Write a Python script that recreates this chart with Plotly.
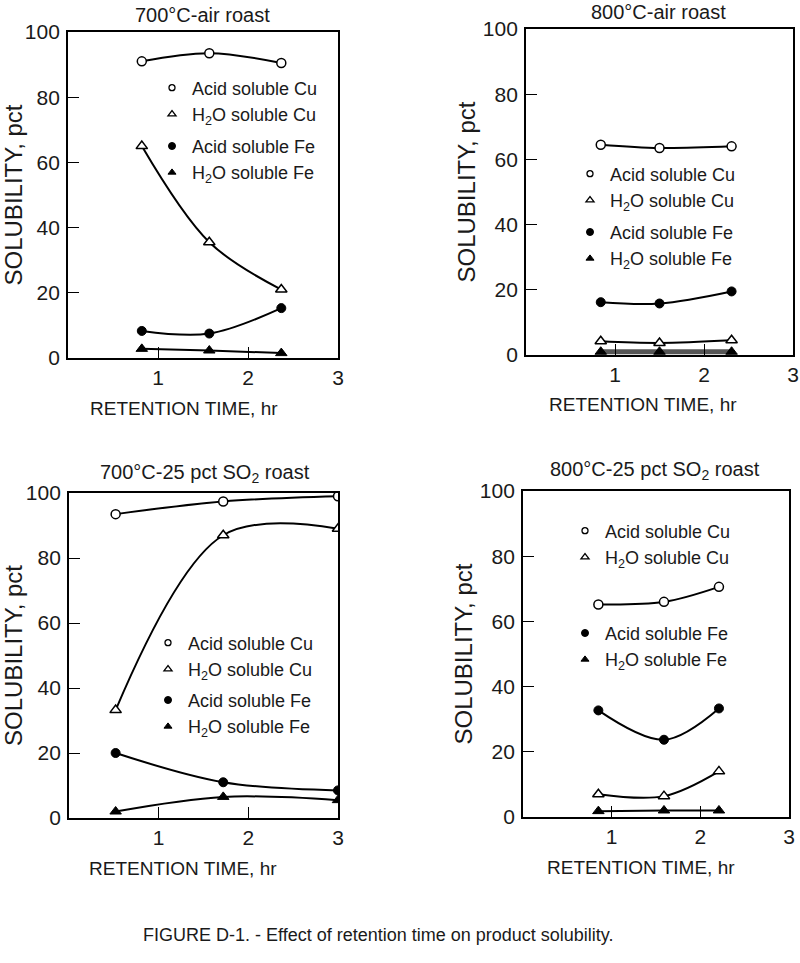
import plotly.graph_objects as go

# ---------------- data ----------------
panel_titles = ["700°C-air roast", "800°C-air roast",
                "700°C-25 pct SO<sub>2</sub> roast", "800°C-25 pct SO<sub>2</sub> roast"]

series_names = ["Acid soluble Cu", "H<sub>2</sub>O soluble Cu",
                "Acid soluble Fe", "H<sub>2</sub>O soluble Fe"]

x_title = "RETENTION TIME, hr"
y_title = "SOLUBILITY, pct"

# 700°C - air roast
time_700_air = [0.82, 1.57, 2.37]
acid_cu_700_air = [91.0, 93.5, 90.5]
h2o_cu_700_air = [65.0, 35.5, 21.0]
acid_fe_700_air = [8.3, 7.5, 15.3]
h2o_fe_700_air = [2.8, 2.3, 1.5]

# 800°C - air roast
time_800_air = [0.84, 1.50, 2.31]
acid_cu_800_air = [64.5, 63.5, 64.0]
h2o_cu_800_air = [4.2, 3.7, 4.5]
acid_fe_800_air = [16.2, 15.8, 19.5]
h2o_fe_800_air = [1.0, 1.0, 1.0]

# 700°C - 25 pct SO2 roast
time_700_so2 = [0.52, 1.72, 3.0]
acid_cu_700_so2 = [93.5, 97.4, 99.0]
h2o_cu_700_so2 = [33.2, 87.0, 89.0]
acid_fe_700_so2 = [20.0, 11.0, 8.5]
h2o_fe_700_so2 = [2.0, 6.5, 5.5]

# 800°C - 25 pct SO2 roast
time_800_so2 = [0.85, 1.59, 2.21]
acid_cu_800_so2 = [65.2, 66.0, 70.6]
h2o_cu_800_so2 = [7.0, 6.4, 14.0]
acid_fe_800_so2 = [32.7, 23.7, 33.3]
h2o_fe_800_so2 = [1.8, 2.0, 2.0]

x_ticks = [1, 2, 3]
y_ticks = [0, 20, 40, 60, 80, 100]

caption = "FIGURE D-1. - Effect of retention time on product solubility."

# ---------------- styling / layout ----------------
FONT = "Liberation Sans, Arial, sans-serif"
TXT = "#1a1a1a"

W, H = 800, 963

panels = [
    dict(x=time_700_air, ys=[acid_cu_700_air, h2o_cu_700_air, acid_fe_700_air, h2o_fe_700_air],
         xd=[68, 338], yd=[32, 358], title_xy=(203, 15), xt_xy=(184, 408),
         leg=(152, 69.5), gap=5.5),
    dict(x=time_800_air, ys=[acid_cu_800_air, h2o_cu_800_air, acid_fe_800_air, h2o_fe_800_air],
         xd=[526, 793], yd=[29, 355], title_xy=(658, 12), xt_xy=(643, 405),
         leg=(570, 155.5), gap=5.5),
    dict(x=time_700_so2, ys=[acid_cu_700_so2, h2o_cu_700_so2, acid_fe_700_so2, h2o_fe_700_so2],
         xd=[69, 338], yd=[493, 818], title_xy=(205, 473), xt_xy=(183, 868),
         leg=(148, 624.5), gap=4.5),
    dict(x=time_800_so2, ys=[acid_cu_800_so2, h2o_cu_800_so2, acid_fe_800_so2, h2o_fe_800_so2],
         xd=[523, 789], yd=[491, 817], title_xy=(655, 470), xt_xy=(641, 867),
         leg=(565, 512.5), gap=49.5),
]


def px_x(v):
    return v / W


def px_y(v):
    return 1 - v / H


marker_styles = [
    dict(symbol="circle", color="white", size=9, line=dict(color="black", width=1.5)),
    dict(symbol="triangle-up", color="white", size=10, line=dict(color="black", width=1.5)),
    dict(symbol="circle", color="black", size=9, line=dict(color="black", width=1)),
    dict(symbol="triangle-up", color="black", size=10, line=dict(color="black", width=1)),
]
legend_marker_styles = [
    dict(symbol="circle", color="white", size=6, line=dict(color="black", width=1.3)),
    dict(symbol="triangle-up", color="white", size=7, line=dict(color="black", width=1.3)),
    dict(symbol="circle", color="black", size=7, line=dict(color="black", width=1)),
    dict(symbol="triangle-up", color="black", size=7, line=dict(color="black", width=1)),
]

fig = go.Figure()
layout = {}
annotations = []

for i, p in enumerate(panels):
    n = "" if i == 0 else str(i + 1)
    xa, ya = "x" + n, "y" + n
    legname = "legend" + n

    # data curves
    for k, yv in enumerate(p["ys"]):
        line_color = "black"
        line_width = 2
        if i == 1 and k == 3:
            line_color = "#555555"
            line_width = 5
        fig.add_trace(go.Scatter(
            x=p["x"], y=yv, mode="lines+markers", xaxis=xa, yaxis=ya,
            line=dict(color=line_color, width=line_width, shape="spline", smoothing=1.0),
            marker=marker_styles[k], showlegend=False, name=series_names[k],
            hoverinfo="x+y"))

    # legend-only entries (markers only, like the printed key)
    for k in range(4):
        fig.add_trace(go.Scatter(
            x=[None], y=[None], mode="markers", xaxis=xa, yaxis=ya,
            marker=legend_marker_styles[k], name=series_names[k],
            legend=legname, legendgroup=f"{'cu' if k < 2 else 'fe'}{i}", showlegend=True))

    axis_common = dict(showline=True, linewidth=1.8, linecolor="black", mirror=True,
                       showgrid=False, zeroline=False, ticks="inside", ticklen=11,
                       tickwidth=1.3, tickcolor="black",
                       tickfont=dict(family=FONT, size=21, color=TXT))
    layout["xaxis" + n] = dict(axis_common, domain=[px_x(p["xd"][0]), px_x(p["xd"][1])],
                               range=[0, 3], tickvals=x_ticks, anchor=ya,
                               ticklabelstandoff=0)
    layout["yaxis" + n] = dict(axis_common, domain=[px_y(p["yd"][1]), px_y(p["yd"][0])],
                               range=[0, 100], tickvals=y_ticks, anchor=xa,
                               ticklabelstandoff=2,
                               title=dict(text=y_title, standoff=0,
                                          font=dict(family=FONT, size=24, color=TXT)))
    layout[legname] = dict(x=px_x(p["leg"][0]), y=px_y(p["leg"][1]), xanchor="left", yanchor="top",
                           bgcolor="rgba(0,0,0,0)", borderwidth=0, tracegroupgap=p["gap"],
                           itemclick=False, itemdoubleclick=False,
                           font=dict(family=FONT, size=18, color=TXT))

    annotations.append(dict(text=panel_titles[i], x=px_x(p["title_xy"][0]), y=px_y(p["title_xy"][1]),
                            xref="paper", yref="paper", showarrow=False, xanchor="center", yanchor="middle",
                            font=dict(family=FONT, size=20, color=TXT)))
    # x-axis title (printed slightly left of the axis centre)
    annotations.append(dict(text=x_title, x=px_x(p["xt_xy"][0]), y=px_y(p["xt_xy"][1]),
                            xref="paper", yref="paper", showarrow=False, xanchor="center", yanchor="middle",
                            font=dict(family=FONT, size=19, color=TXT)))

annotations.append(dict(text=caption, x=px_x(378), y=px_y(935), xref="paper", yref="paper",
                        showarrow=False, xanchor="center", yanchor="middle",
                        font=dict(family=FONT, size=18, color=TXT)))

fig.update_layout(**layout)
fig.update_layout(width=W, height=H,
                  margin=dict(l=0, r=0, t=0, b=0, autoexpand=False),
                  paper_bgcolor="white", plot_bgcolor="white",
                  annotations=annotations, showlegend=True,
                  font=dict(family=FONT, color=TXT))

# remove the browser's default 8 px body margin so the figure sits at the page origin
fig.write_html("out.html", config={"displayModeBar": False},
               post_script="document.body.style.margin='0px';")
